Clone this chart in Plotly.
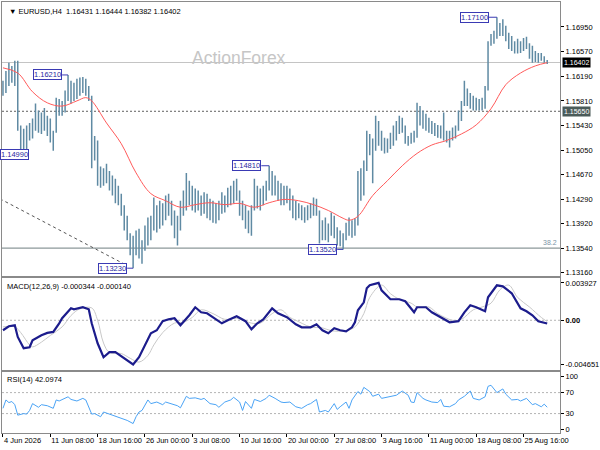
import plotly.graph_objects as go

FONT = "Liberation Sans"

header = "▼ EURUSD,H4  1.16431 1.16444 1.16382 1.16402"
macd_title = "MACD(12,26,9) -0.000344 -0.000140"
rsi_title = "RSI(14) 42.0974"

# one bar per 8 hours (two H4 candles), index 0 = 4 Jun 2026 00:00
highs = [1.1612, 1.1627, 1.1640, 1.1635, 1.1643, 1.1643, 1.1543, 1.1538, 1.1543, 1.1547,
         1.1554, 1.1577, 1.1566, 1.1563, 1.1570, 1.1558, 1.1554, 1.1535, 1.1586, 1.1584,
         1.1581, 1.1597, 1.1621, 1.1612, 1.1609, 1.1615, 1.1617, 1.1618, 1.1615, 1.1604,
         1.1589, 1.1527, 1.1520, 1.1480, 1.1477, 1.1484, 1.1473, 1.1466, 1.1461, 1.1450,
         1.1438, 1.1420, 1.1404, 1.1377, 1.1373, 1.1381, 1.1384, 1.1366, 1.1389, 1.1401,
         1.1404, 1.1432, 1.1420, 1.1427, 1.1423, 1.1435, 1.1438, 1.1427, 1.1412, 1.1404,
         1.1427, 1.1443, 1.1470, 1.1458, 1.1450, 1.1446, 1.1443, 1.1435, 1.1440, 1.1438,
         1.1430, 1.1427, 1.1423, 1.1427, 1.1440, 1.1435, 1.1447, 1.1450, 1.1458, 1.1461,
         1.1443, 1.1427, 1.1420, 1.1412, 1.1420, 1.1461, 1.1450, 1.1446, 1.1450, 1.1458,
         1.1481, 1.1473, 1.1466, 1.1458, 1.1454, 1.1450, 1.1450, 1.1446, 1.1435, 1.1427,
         1.1423, 1.1420, 1.1417, 1.1420, 1.1423, 1.1432, 1.1430, 1.1412, 1.1397, 1.1401,
         1.1392, 1.1409, 1.1404, 1.1386, 1.1381, 1.1377, 1.1393, 1.1401, 1.1397, 1.1400,
         1.1473, 1.1477, 1.1489, 1.1535, 1.1530, 1.1523, 1.1558, 1.1550, 1.1535, 1.1524,
         1.1523, 1.1532, 1.1543, 1.1550, 1.1558, 1.1555, 1.1543, 1.1527, 1.1532, 1.1535,
         1.1578, 1.1573, 1.1566, 1.1561, 1.1555, 1.1550, 1.1547, 1.1544, 1.1543, 1.1563,
         1.1535, 1.1535, 1.1540, 1.1543, 1.1566, 1.1581, 1.1612, 1.1600, 1.1593, 1.1589,
         1.1586, 1.1584, 1.1586, 1.1604, 1.1673, 1.1684, 1.1689, 1.1710, 1.1701, 1.1707,
         1.1697, 1.1686, 1.1681, 1.1673, 1.1677, 1.1673, 1.1678, 1.1680, 1.1670, 1.1666,
         1.1658, 1.1655, 1.1655, 1.1650, 1.1644]
lows = [1.1589, 1.1593, 1.1604, 1.1609, 1.1604, 1.1535, 1.1507, 1.1505, 1.1499, 1.1520,
        1.1523, 1.1535, 1.1532, 1.1530, 1.1535, 1.1527, 1.1517, 1.1504, 1.1532, 1.1558,
        1.1558, 1.1563, 1.1581, 1.1577, 1.1581, 1.1584, 1.1589, 1.1593, 1.1589, 1.1581,
        1.1477, 1.1489, 1.1450, 1.1447, 1.1450, 1.1454, 1.1443, 1.1435, 1.1423, 1.1420,
        1.1404, 1.1381, 1.1366, 1.1343, 1.1323, 1.1343, 1.1338, 1.1330, 1.1350, 1.1358,
        1.1366, 1.1381, 1.1378, 1.1384, 1.1389, 1.1397, 1.1404, 1.1389, 1.1369, 1.1358,
        1.1381, 1.1404, 1.1412, 1.1420, 1.1412, 1.1409, 1.1412, 1.1404, 1.1407, 1.1400,
        1.1397, 1.1393, 1.1392, 1.1397, 1.1407, 1.1409, 1.1417, 1.1420, 1.1423, 1.1427,
        1.1404, 1.1397, 1.1384, 1.1377, 1.1373, 1.1412, 1.1415, 1.1412, 1.1420, 1.1427,
        1.1443, 1.1435, 1.1435, 1.1427, 1.1420, 1.1420, 1.1423, 1.1412, 1.1400, 1.1397,
        1.1400, 1.1397, 1.1393, 1.1397, 1.1400, 1.1404, 1.1404, 1.1361, 1.1366, 1.1366,
        1.1363, 1.1373, 1.1369, 1.1358, 1.1357, 1.1352, 1.1366, 1.1373, 1.1370, 1.1373,
        1.1389, 1.1427, 1.1435, 1.1473, 1.1497, 1.1454, 1.1504, 1.1512, 1.1504, 1.1500,
        1.1501, 1.1507, 1.1512, 1.1520, 1.1530, 1.1532, 1.1515, 1.1512, 1.1515, 1.1517,
        1.1524, 1.1543, 1.1538, 1.1535, 1.1532, 1.1530, 1.1527, 1.1524, 1.1523, 1.1520,
        1.1517, 1.1509, 1.1520, 1.1523, 1.1535, 1.1550, 1.1573, 1.1573, 1.1569, 1.1566,
        1.1566, 1.1566, 1.1566, 1.1569, 1.1597, 1.1666, 1.1669, 1.1677, 1.1681, 1.1681,
        1.1673, 1.1661, 1.1658, 1.1654, 1.1654, 1.1655, 1.1658, 1.1661, 1.1646, 1.1640,
        1.1641, 1.1640, 1.1643, 1.1640, 1.1638]

date_idx = [0, 16, 32, 48, 64, 80, 96, 112, 128, 144, 160, 176]
date_text = ["4 Jun 2026", "11 Jun 08:00", "18 Jun 16:00", "26 Jun 00:00", "3 Jul 08:00",
             "10 Jul 16:00", "20 Jul 00:00", "27 Jul 08:00", "3 Aug 16:00", "11 Aug 00:00",
             "18 Aug 08:00", "25 Aug 16:00"]
price_ticks = [1.13160, 1.13540, 1.13920, 1.14290, 1.14670, 1.15050, 1.15430, 1.15810,
               1.16190, 1.16570, 1.16950]

# moving average (red)
ma_idx = [0, 5, 10, 15, 20, 25, 28, 30, 35, 40, 45, 50, 55, 60, 65, 70, 75, 80, 85, 90,
          95, 100, 105, 110, 115, 117, 120, 125, 130, 135, 140, 145, 150, 155, 160, 165,
          170, 175, 180, 184]
ma_val = [1.1632, 1.1624, 1.1595, 1.1578, 1.1573, 1.1581, 1.1586, 1.1581, 1.1547, 1.1515,
          1.1470, 1.1438, 1.1427, 1.1417, 1.1421, 1.1424, 1.1421, 1.1423, 1.1417, 1.1424,
          1.1429, 1.1427, 1.1421, 1.1412, 1.1400, 1.1397, 1.1403, 1.1435, 1.1458, 1.1481,
          1.1500, 1.1513, 1.1520, 1.1530, 1.1544, 1.1569, 1.1606, 1.1624, 1.1635, 1.1640]

macd_idx = [0, 2, 4, 5, 7, 9, 10, 13, 15, 17, 19, 20, 23, 24, 27, 29, 30, 32, 34, 36,
            38, 40, 43, 44, 46, 48, 50, 52, 54, 56, 58, 60, 63, 65, 67, 69, 71, 74, 76, 79,
            82, 84, 86, 88, 91, 93, 96, 99, 101, 104, 106, 108, 110, 112, 114, 116, 118, 119,
            120, 122, 123, 124, 127, 128, 131, 134, 136, 139, 140, 143, 145, 148, 151, 154,
            156, 158, 160, 163, 164, 167, 169, 172, 175, 177, 179, 181, 183, 184]
macd_val = [-0.00105, -0.00063, -0.00053, -0.00175, -0.00294, -0.00284, -0.0021, -0.00158,
            -0.00133, -0.00123, -0.00032, 0.00021, 0.00126, 0.00116, 0.00137, 0.00116,
            -0.00032, -0.00242, -0.00389, -0.00336, -0.00336, -0.00378, -0.00441, -0.00465,
            -0.00389, -0.00263, -0.00137, -0.00105, -0.0001, 0.0001, 0.00021, -0.00053,
            0.00053, 0.00137, 0.00084, 0.00074, 0.00032, -0.00032, 0.0, 0.00042, -0.0001,
            -0.00095, -0.00032, 0.0001, 0.00126, 0.00074, 0.00032, -0.00042, -0.00074,
            -0.00074, -0.00042, -0.00105, -0.00137, -0.00084, -0.00105, -0.00116, -0.00074,
            -0.00021, 0.00105, 0.00189, 0.00336, 0.00368, 0.00393, 0.00315, 0.00221, 0.00221,
            0.002, 0.00084, 0.00137, 0.00137, 0.00084, 0.00032, -0.00021, -0.0001, 0.00084,
            0.00158, 0.00137, 0.00095, 0.00242, 0.00368, 0.00357, 0.00284, 0.00126, 0.00095,
            0.00053, -0.0001, -0.00021, -0.000344]
sig_idx = [0, 4, 6, 9, 10, 13, 16, 20, 23, 26, 30, 32, 34, 36, 40, 43, 46, 49, 51, 54,
           58, 61, 64, 67, 71, 75, 79, 84, 87, 91, 94, 97, 99, 104, 108, 111, 116, 119, 122,
           124, 128, 131, 134, 138, 140, 144, 147, 152, 155, 159, 162, 165, 168, 171, 174,
           178, 182, 184]
sig_val = [-0.0007, -0.0007, -0.0013, -0.0026, -0.0028, -0.0023, -0.0016, -0.0007, 0.0005,
           0.0012, 0.0013, 0.0, -0.0024, -0.0034, -0.0035, -0.0040, -0.0044, -0.0037, -0.0026,
           -0.0013, -0.0003, -0.0002, 0.0003, 0.0011, 0.0007, 0.0001, 0.0002, -0.0003, -0.0003,
           0.0007, 0.0011, 0.0003, 0.0, -0.0007, -0.0008, -0.0011, -0.0011, -0.0007, 0.0007,
           0.0024, 0.0037, 0.0028, 0.0022, 0.0018, 0.0014, 0.0014, 0.0007, 0.0, 0.0001, 0.0011,
           0.0014, 0.0018, 0.0032, 0.0037, 0.0024, 0.0014, 0.0003, -0.00014]

rsi_idx = [0, 1, 2, 3, 4, 5, 7, 8, 9, 10, 12, 13, 15, 17, 18, 19, 22, 23, 25, 27,
           28, 30, 31, 33, 34, 36, 38, 40, 42, 44, 45, 46, 47, 49, 50, 52, 54, 55, 57, 59,
           60, 62, 63, 65, 67, 68, 70, 72, 73, 75, 77, 78, 80, 81, 82, 84, 85, 87, 89, 90,
           92, 94, 95, 97, 99, 101, 103, 104, 106, 107, 109, 110, 112, 113, 114, 116, 117,
           118, 120, 121, 122, 124, 125, 127, 128, 130, 133, 135, 137, 138, 139, 140, 142,
           143, 145, 147, 148, 149, 151, 153, 154, 156, 158, 159, 161, 163, 164, 165, 167,
           169, 170, 172, 174, 175, 177, 179, 180, 182, 183, 184]
rsi_val = [40, 56, 51, 53, 47, 27, 30, 29, 36, 49, 42, 47, 45, 40, 56, 54, 62, 57, 54, 59,
           56, 29, 30, 24, 33, 29, 25, 21, 17, 11, 24, 33, 36, 56, 49, 52, 47, 52, 48, 45,
           41, 63, 59, 60, 57, 59, 49, 47, 42, 52, 56, 61, 52, 36, 53, 40, 57, 53, 59, 65,
           59, 52, 51, 52, 43, 40, 47, 49, 57, 33, 36, 33, 49, 38, 43, 52, 40, 56, 72, 67,
           80, 72, 63, 67, 59, 61, 65, 73, 65, 52, 51, 70, 59, 56, 52, 51, 57, 44, 43, 49,
           56, 63, 73, 59, 56, 62, 82, 84, 70, 77, 67, 56, 57, 54, 59, 47, 49, 43, 48, 42.1]

last_price = 1.16402
pivot_level = 1.15650
fib_level = 1.13540
trend_idx = [-1, 42]
trend_val = [1.1430, 1.1327]

peak_idx = [8, 22, 44, 90, 115, 167]
peak_val = [1.14990, 1.16210, 1.13230, 1.14810, 1.13520, 1.17100]
peak_gap = [-2, 6, 6, 8, 6, 8]  # px from box to bar (first one kept inside the frame)

BAR_CLR = "#5f8aa3"
BOX_CLR = "#3a3ab4"
FRAME = "#8a8a8a"

fig = go.Figure()

bx, by = [], []
for i, (h, l) in enumerate(zip(highs, lows)):
    bx += [i, i, None]
    by += [l, h, None]
fig.add_trace(go.Scatter(x=bx, y=by, mode="lines", line=dict(color=BAR_CLR, width=1.5),
                         xaxis="x", yaxis="y", hoverinfo="skip"))
fig.add_trace(go.Scatter(x=ma_idx, y=ma_val, mode="lines", line=dict(color="#ff5a5a", width=1, shape="spline"),
                         xaxis="x", yaxis="y"))
fig.add_trace(go.Scatter(x=trend_idx, y=trend_val, mode="lines", line=dict(color="#555555", width=1, dash="3px,3px"),
                         xaxis="x", yaxis="y"))

fig.add_trace(go.Scatter(x=sig_idx, y=sig_val, mode="lines", line=dict(color="#c8c8c8", width=1, shape="spline"),
                         xaxis="x2", yaxis="y2"))
fig.add_trace(go.Scatter(x=macd_idx, y=macd_val, mode="lines", line=dict(color="#1c1c8c", width=2.2),
                         xaxis="x2", yaxis="y2"))

fig.add_trace(go.Scatter(x=rsi_idx, y=rsi_val, mode="lines", line=dict(color="#4aa3f5", width=1),
                         xaxis="x3", yaxis="y3"))

shapes = []
shapes.append(dict(type="line", xref="x domain", x0=0, x1=1, yref="y", y0=last_price, y1=last_price,
                   line=dict(color="#c4c4c4", width=1), layer="below"))
shapes.append(dict(type="line", xref="x domain", x0=0, x1=1, yref="y", y0=pivot_level, y1=pivot_level,
                   line=dict(color="#606060", width=1, dash="2px,2px"), layer="below"))
shapes.append(dict(type="line", xref="x domain", x0=0, x1=1, yref="y", y0=fib_level, y1=fib_level,
                   line=dict(color="#6f7f80", width=1), layer="below"))
shapes.append(dict(type="line", xref="x2 domain", x0=0, x1=1, yref="y2", y0=0, y1=0,
                   line=dict(color="#b4b4b4", width=1, dash="2px,2px"), layer="below"))
for lvl in [30, 70]:
    shapes.append(dict(type="line", xref="x3 domain", x0=0, x1=1, yref="y3", y0=lvl, y1=lvl,
                       line=dict(color="#b4b4b4", width=1, dash="2px,2px"), layer="below"))

anns = []
anns.append(dict(text=header, xref="paper", x=0, xshift=5, xanchor="left", yref="paper", y=1, yshift=-3,
                 yanchor="top", showarrow=False, font=dict(size=7.5, color="black")))
anns.append(dict(text="ActionForex", xref="x domain", x=0.424, yref="y domain", y=0.84, showarrow=False,
                 font=dict(size=17.5, color="#c6c6c6")))
anns.append(dict(text=macd_title, xref="paper", x=0, xshift=3, xanchor="left", yref="y2 domain", y=1,
                 yshift=-2, yanchor="top", showarrow=False, font=dict(size=7.5, color="black")))
anns.append(dict(text=rsi_title, xref="paper", x=0, xshift=3, xanchor="left", yref="y3 domain", y=1,
                 yshift=-1, yanchor="top", showarrow=False, font=dict(size=7.5, color="black")))
anns.append(dict(text="38.2", xref="x domain", x=1, xshift=-1, xanchor="right", yref="y", y=fib_level,
                 yanchor="bottom", showarrow=False, font=dict(size=7, color="#7a93a6")))
anns.append(dict(text=f"{last_price:.5f}", xref="x domain", x=1, xshift=2, xanchor="left", yref="y",
                 y=last_price, showarrow=False, bgcolor="black", borderpad=1,
                 font=dict(size=7, color="white")))
anns.append(dict(text=f"{pivot_level:.5f}", xref="x domain", x=1, xshift=2, xanchor="left", yref="y",
                 y=pivot_level, showarrow=False, bgcolor="#4b5b59", borderpad=1,
                 font=dict(size=7, color="white")))

for i, v, g in zip(peak_idx, peak_val, peak_gap):
    x_box = i - g / 3.0
    if g > 0:
        shapes.append(dict(type="line", xref="x", x0=x_box, x1=i, yref="y", y0=v, y1=v,
                           line=dict(color=BOX_CLR, width=1)))
    anns.append(dict(text=f"{v:.5f}", xref="x", x=x_box, xanchor="right", yref="y", y=v,
                     showarrow=False, bgcolor="white", bordercolor=BOX_CLR, borderwidth=1, borderpad=0,
                     font=dict(size=7.5, color="#2828a0")))

axis_common = dict(showgrid=False, zeroline=False, showline=True, mirror=True, linecolor=FRAME,
                   linewidth=1)
xr = [-0.33, 188.33]

fig.update_layout(
    width=600, height=450,
    margin=dict(l=1, r=33, t=1, b=17),
    paper_bgcolor="white", plot_bgcolor="white",
    showlegend=False, hovermode=False,
    font=dict(family=FONT, size=7, color="black"),
    xaxis=dict(domain=[0, 1], anchor="y", range=xr, showticklabels=False, ticks="", **axis_common),
    xaxis2=dict(domain=[0, 1], anchor="y2", matches="x", showticklabels=False, ticks="", **axis_common),
    xaxis3=dict(domain=[0, 1], anchor="y3", matches="x", tickmode="array", tickvals=date_idx,
                ticktext=date_text, ticks="outside", ticklen=3, tickcolor="black", tickangle=0,
                ticklabelposition="outside right", tickfont=dict(size=7.5), **axis_common),
    yaxis=dict(domain=[0.3634, 1], anchor="x", side="right", range=[1.13104, 1.17335],
               tickmode="array", tickvals=price_ticks, tickformat=".5f", ticks="outside", ticklen=3,
               tickcolor="black", tickfont=dict(size=7.5), **axis_common),
    yaxis2=dict(domain=[0.1458, 0.3588], anchor="x2", side="right", range=[-0.00525, 0.00441],
                tickmode="array", tickvals=[-0.004651, 0, 0.003927],
                ticktext=["-0.004651", "<b>0.00</b>", "0.003927"], ticks="outside", ticklen=3,
                tickcolor="black", tickfont=dict(size=7.5), **axis_common),
    yaxis3=dict(domain=[0, 0.1412], anchor="x3", side="right", range=[-7, 109],
                tickmode="array", tickvals=[0, 30, 70, 100], ticks="outside", ticklen=3,
                tickcolor="black", tickfont=dict(size=7.5), **axis_common),
    shapes=shapes,
    annotations=anns,
)

fig.write_html("out.html", config={"displayModeBar": False},
               post_script="document.body.style.margin='0';")
